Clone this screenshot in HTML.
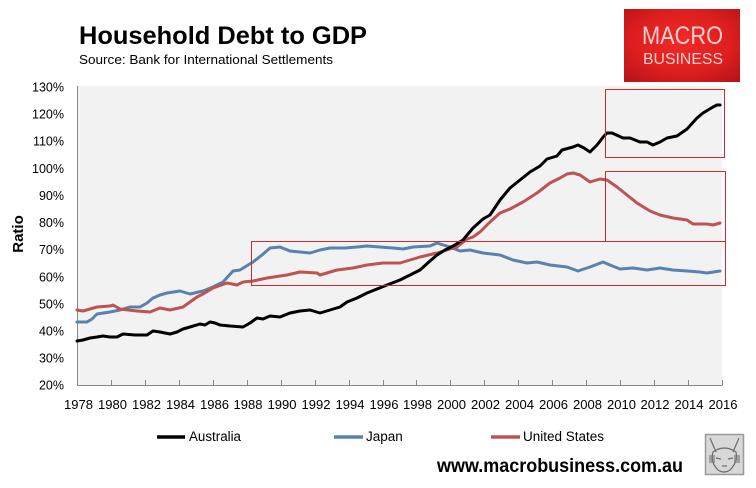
<!DOCTYPE html>
<html>
<head>
<meta charset="utf-8">
<style>
html,body{margin:0;padding:0;background:#fff;}
svg{display:block;}
text{font-family:"Liberation Sans",Arial,sans-serif;}
</style>
</head>
<body>
<svg width="756" height="488" viewBox="0 0 756 488" xmlns="http://www.w3.org/2000/svg">
<defs>
<radialGradient id="lg" cx="50%" cy="45%" r="70%">
<stop offset="0" stop-color="#f02a26"/>
<stop offset="0.6" stop-color="#de1e1f"/>
<stop offset="1" stop-color="#b8141a"/>
</radialGradient>
</defs>
<rect width="756" height="488" fill="#fff"/>

<!-- Title -->
<text x="79" y="44" font-size="25" font-weight="bold" fill="#000" textLength="288" lengthAdjust="spacingAndGlyphs">Household Debt to GDP</text>
<text x="79" y="64" font-size="13" fill="#000" textLength="254" lengthAdjust="spacingAndGlyphs">Source: Bank for International Settlements</text>

<!-- Logo -->
<rect x="624" y="9" width="116" height="73" fill="url(#lg)"/>
<text x="642" y="44" font-size="25" fill="#f7cfcf" textLength="81" lengthAdjust="spacingAndGlyphs">MACRO</text>
<text x="643" y="64" font-size="16" fill="#f7cfcf" textLength="80" lengthAdjust="spacingAndGlyphs">BUSINESS</text>

<!-- Plot area -->
<rect x="77" y="86" width="645" height="299" fill="#f2f2f2"/>
<line x1="77.5" y1="86" x2="77.5" y2="385.5" stroke="#868686" stroke-width="1"/>
<line x1="77" y1="385.5" x2="722.5" y2="385.5" stroke="#868686" stroke-width="1"/>
<g stroke="#868686" stroke-width="1">
<line x1="111.5" y1="380" x2="111.5" y2="385"/>
<line x1="145.5" y1="380" x2="145.5" y2="385"/>
<line x1="179.5" y1="380" x2="179.5" y2="385"/>
<line x1="213.5" y1="380" x2="213.5" y2="385"/>
<line x1="247.5" y1="380" x2="247.5" y2="385"/>
<line x1="281.5" y1="380" x2="281.5" y2="385"/>
<line x1="315.5" y1="380" x2="315.5" y2="385"/>
<line x1="349.5" y1="380" x2="349.5" y2="385"/>
<line x1="383.5" y1="380" x2="383.5" y2="385"/>
<line x1="416.5" y1="380" x2="416.5" y2="385"/>
<line x1="450.5" y1="380" x2="450.5" y2="385"/>
<line x1="484.5" y1="380" x2="484.5" y2="385"/>
<line x1="518.5" y1="380" x2="518.5" y2="385"/>
<line x1="552.5" y1="380" x2="552.5" y2="385"/>
<line x1="586.5" y1="380" x2="586.5" y2="385"/>
<line x1="620.5" y1="380" x2="620.5" y2="385"/>
<line x1="654.5" y1="380" x2="654.5" y2="385"/>
<line x1="688.5" y1="380" x2="688.5" y2="385"/>
<line x1="722.5" y1="380" x2="722.5" y2="385"/>
</g>

<!-- Y labels -->
<g font-size="12.5" fill="#000" text-anchor="end">
<text x="64" y="91.5">130%</text>
<text x="64" y="118.6">120%</text>
<text x="64" y="145.7">110%</text>
<text x="64" y="172.8">100%</text>
<text x="64" y="200">90%</text>
<text x="64" y="227.1">80%</text>
<text x="64" y="254.2">70%</text>
<text x="64" y="281.3">60%</text>
<text x="64" y="308.4">50%</text>
<text x="64" y="335.5">40%</text>
<text x="64" y="362.6">30%</text>
<text x="64" y="389.7">20%</text>
</g>
<text transform="translate(23,234) rotate(-90)" font-size="15" font-weight="bold" text-anchor="middle" fill="#000">Ratio</text>

<!-- X labels -->
<g font-size="13" fill="#000">
<text x="64" y="409" textLength="29" lengthAdjust="spacingAndGlyphs">1978</text>
<text x="98" y="409" textLength="29" lengthAdjust="spacingAndGlyphs">1980</text>
<text x="132" y="409" textLength="29" lengthAdjust="spacingAndGlyphs">1982</text>
<text x="166" y="409" textLength="29" lengthAdjust="spacingAndGlyphs">1984</text>
<text x="200" y="409" textLength="29" lengthAdjust="spacingAndGlyphs">1986</text>
<text x="233.5" y="409" textLength="29" lengthAdjust="spacingAndGlyphs">1988</text>
<text x="267.5" y="409" textLength="29" lengthAdjust="spacingAndGlyphs">1990</text>
<text x="301.5" y="409" textLength="29" lengthAdjust="spacingAndGlyphs">1992</text>
<text x="335.5" y="409" textLength="29" lengthAdjust="spacingAndGlyphs">1994</text>
<text x="369.5" y="409" textLength="29" lengthAdjust="spacingAndGlyphs">1996</text>
<text x="403" y="409" textLength="29" lengthAdjust="spacingAndGlyphs">1998</text>
<text x="437" y="409" textLength="29" lengthAdjust="spacingAndGlyphs">2000</text>
<text x="471" y="409" textLength="29" lengthAdjust="spacingAndGlyphs">2002</text>
<text x="505" y="409" textLength="29" lengthAdjust="spacingAndGlyphs">2004</text>
<text x="539" y="409" textLength="29" lengthAdjust="spacingAndGlyphs">2006</text>
<text x="573" y="409" textLength="29" lengthAdjust="spacingAndGlyphs">2008</text>
<text x="607" y="409" textLength="29" lengthAdjust="spacingAndGlyphs">2010</text>
<text x="640.5" y="409" textLength="29" lengthAdjust="spacingAndGlyphs">2012</text>
<text x="674.5" y="409" textLength="29" lengthAdjust="spacingAndGlyphs">2014</text>
<text x="708.5" y="409" textLength="29" lengthAdjust="spacingAndGlyphs">2016</text>
</g>

<!-- Series -->
<g fill="none" stroke-width="3" stroke-linejoin="round" stroke-linecap="round">
<polyline stroke="#5a82ae" points="77,322 87,322 92,319 97,314 110,312 120,310 130,307 140,307 147,303 153,298 160,295 167,293 180,291 190,294 203,291 213,287 223,282 233,271 240,270 253,262 262,255 270,248 280,247 290,251 300,252 310,253 320,250 330,248 345,248 357,247 367,246 380,247 393,248 403,249 413,247 430,246 437,243 440,244 450,247 460,251 470,250 483,253 500,255 513,260 527,263 537,262 550,265 567,267 578,271 590,267 603,262 610,265 620,269 633,268 647,270 660,268 673,270 687,271 700,272 707,273 720,271"/>
<polyline stroke="#bd5353" points="77,310 83,311 90,309 97,307 110,306 113,305 120,309 137,311 150,312 160,308 170,310 183,307 190,302 197,297 203,294 213,288 227,283 237,285 243,282 253,281 267,278 287,275 300,272 317,273 320,275 337,270 353,268 367,265 383,263 400,263 420,257 437,253 450,249 457,247 467,239 473,237 480,232 490,222 500,213 510,209 523,202 537,193 550,183 560,178 567,174 573,173 580,175 590,182 600,179 607,180 617,187 627,195 637,203 650,211 660,215 673,218 687,220 693,224 707,224 713,225 720,223"/>
<polyline stroke="#000" points="77,341 83,340 90,338 97,337 103,336 110,337 117,337 123,334 135,335 147,335 153,331 160,332 170,334 177,332 183,329 190,327 200,324 205,325 210,322 215,323 220,325 230,326 243,327 250,323 257,318 263,319 270,316 280,317 290,313 300,311 310,310 320,313 330,310 340,307 347,302 357,298 367,293 377,289 387,285 400,280 410,275 420,270 430,261 437,255 445,250 453,246 463,240 473,228 483,219 490,215 500,200 510,188 520,180 530,172 540,166 547,159 557,156 562,150 573,147 578,145 584,148 590,152 597,145 604,136 607,133 612,133 623,138 630,138 640,142 647,142 653,145 660,142 667,138 677,136 687,129 697,118 703,113 713,107 717,105 720,105"/>
</g>

<!-- Red highlight boxes -->
<g fill="none" stroke="#cc2a33" stroke-width="1" shape-rendering="crispEdges">
<rect x="605.5" y="89.5" width="119" height="68"/>
<rect x="605.5" y="171.5" width="120" height="70"/>
<rect x="251.5" y="241.5" width="474" height="44"/>
</g>

<!-- Legend -->
<line x1="157" y1="437" x2="185" y2="437" stroke="#000" stroke-width="3.5"/>
<text x="189" y="441" font-size="13.5" fill="#000" textLength="52" lengthAdjust="spacingAndGlyphs">Australia</text>
<line x1="334" y1="437" x2="363" y2="437" stroke="#5a82ae" stroke-width="3.5"/>
<text x="366" y="441" font-size="13.5" fill="#000">Japan</text>
<line x1="491" y1="437" x2="520" y2="437" stroke="#bd5353" stroke-width="3.5"/>
<text x="523" y="441" font-size="13.5" fill="#000" textLength="81" lengthAdjust="spacingAndGlyphs">United States</text>

<!-- Website -->
<text x="437" y="472" font-size="19" font-weight="bold" fill="#000" textLength="246" lengthAdjust="spacingAndGlyphs">www.macrobusiness.com.au</text>

<!-- Fox icon -->
<rect x="705.5" y="434.5" width="38" height="40" fill="#d8d8d8" stroke="#9a9a9a" stroke-width="1.5"/>
<g fill="none" stroke="#6a6a6a" stroke-width="1.2">
<path d="M710,438 L716,452 M739,438 L733,452"/>
<path d="M713,452 Q724,444 736,452 Q738,462 730,470 Q724,474 718,470 Q710,462 713,452 Z"/>
<path d="M716,458 L721,459 M728,459 L733,458"/>
<path d="M722,466 L727,466"/>
</g>
<g fill="#7a7a7a" opacity="0.6">
<rect x="709" y="455" width="6" height="8"/>
<rect x="734" y="455" width="6" height="8"/>
</g>
</svg>
</body>
</html>
